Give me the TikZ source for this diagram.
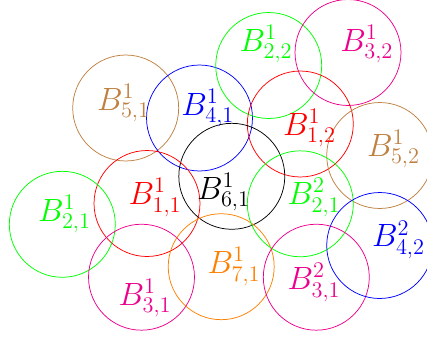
\documentclass[tikz,border=0pt]{standalone}
\usepackage{amsmath,amssymb}
\usepackage{xcolor}
\usepackage{tikz}

\begin{document}
\begin{tikzpicture}[
    x=0.018868cm, y=-0.018868cm,
    ball/.style={draw, circle, minimum size=2cm, inner sep=0pt},
    lbl/.style={anchor=base west, inner sep=0pt, font=\LARGE},
  ]
  \useasboundingbox (0,0) rectangle (427,339);
  % balls of the first and second cover
  \node[ball, brown]   (c51) at (125.7,108)   {};
  \node[ball, blue]    (c41) at (199.5,118)   {};
  \node[ball, green]   (c22) at (268.7,65.5)  {};
  \node[ball, magenta] (c32) at (348,52.5)    {};
  \node[ball, red]     (c12) at (300.3,124)   {};
  \node[ball, brown]   (c52) at (379.7,155.5) {};
  \node[ball, black]   (c61) at (231.8,176.3) {};
  \node[ball, red]     (c11) at (147,203.5)   {};
  \node[ball, green]   (c21) at (62.3,224.3)  {};
  \node[ball, magenta] (c31) at (141.5,277.2) {};
  \node[ball, orange]  (c71) at (221.2,266.7) {};
  \node[ball, green]   (d21) at (300.3,203.8) {};
  \node[ball, magenta] (d31) at (316.3,277.2) {};
  \node[ball, blue]    (d42) at (379.7,245.5) {};
  % labels
  \node[lbl, brown]   (b51) at (96.7,110)   {$B^1_{5,1}$};
  \node[lbl, blue]    (b41) at (181,115)    {$B^1_{4,1}$};
  \node[lbl, green]   (b22) at (239.3,51)   {$B^1_{2,2}$};
  \node[lbl, magenta] (b32) at (340,51)     {$B^1_{3,2}$};
  \node[lbl, red]     (b12) at (282.7,135)  {$B^1_{1,2}$};
  \node[lbl, brown]   (b52) at (366.7,156)  {$B^1_{5,2}$};
  \node[lbl, black]   (b61) at (196.7,199)  {$B^1_{6,1}$};
  \node[lbl, red]     (b11) at (128.3,204.3) {$B^1_{1,1}$};
  \node[lbl, green]   (b21) at (37.7,221)   {$B^1_{2,1}$};
  \node[lbl, magenta] (b31) at (118.3,305)  {$B^1_{3,1}$};
  \node[lbl, orange]  (b71) at (207.3,273.3) {$B^1_{7,1}$};
  \node[lbl, green]   (e21) at (287.3,204.3) {$B^2_{2,1}$};
  \node[lbl, magenta] (e31) at (287.3,289.3) {$B^2_{3,1}$};
  \node[lbl, blue]    (e42) at (371.7,246.7) {$B^2_{4,2}$};
\end{tikzpicture}
\end{document}
